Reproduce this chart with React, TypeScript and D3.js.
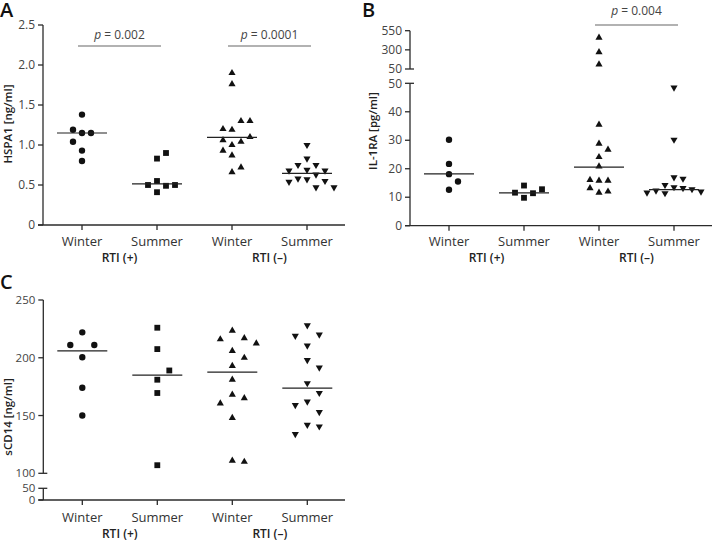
import React from "react";
import * as d3 from "d3";

// categories and group labels
const categories = ["Winter", "Summer", "Winter", "Summer"];
const groupLabels = ["RTI (+)", "RTI (–)"];
const shapes = ["circle", "square", "up", "down"];

// HSPA1 [ng/ml]
const hspaWinterPos = [1.38, 1.15, 1.15, 1.19, 1.04, 0.93, 0.8];
const hspaSummerPos = [0.83, 0.9, 0.55, 0.49, 0.5, 0.5, 0.41];
const hspaWinterNeg = [1.9, 1.76, 1.19, 1.3, 1.2, 1.0, 1.04, 1.06, 1.3, 1.1, 0.93, 0.87, 0.66, 0.72];
const hspaSummerNeg = [1.0, 0.83, 0.75, 0.75, 0.69, 0.68, 0.68, 0.63, 0.58, 0.57, 0.55, 0.54, 0.47, 0.47];
const hspaMedians = [1.15, 0.515, 1.095, 0.645];
const hspaTicks = [0, 0.5, 1, 1.5, 2, 2.5];
const hspaTickLabels = ["0", "0.5", "1.0", "1.5", "2.0", "2.5"];

// IL-1RA [pg/ml]
const ilWinterPos = [30.2, 21.7, 18.1, 15.5, 12.6];
const ilSummerPos = [14.1, 11.4, 11.6, 12.8, 9.8];
const ilWinterNeg = [460, 270, 110, 35.5, 28.8, 26.7, 24.1, 20.8, 15.8, 15.8, 16.1, 11.6, 13.2, 12.0];
const ilSummerNeg = [48.5, 30.2, 17.0, 16.5, 14.3, 13.5, 13.2, 12.8, 12.3, 12.0, 11.6, 11.4, 11.0, 10.8];
const ilMedians = [18.2, 11.5, 20.6, 12.7];
const ilTicksLow = [0, 10, 20, 30, 40, 50];
const ilTicksHigh = [50, 300, 550];

// sCD14 [ng/ml]
const cdWinterPos = [222, 211, 211, 200.5, 174, 150];
const cdSummerPos = [226, 207.5, 181, 189, 169.5, 107];
const cdWinterNeg = [223.5, 217, 216, 212.5, 206, 200, 193, 181, 168, 165, 160.5, 148, 111, 110];
const cdSummerNeg = [228, 220, 219, 210.5, 198, 191.5, 178, 169.5, 162, 159, 153, 142, 140.5, 134];
const cdMedians = [206, 185, 187.6, 173.7];
const cdTicksLow = [0, 50];
const cdTicksHigh = [100, 150, 200, 250];

const FONT = "'Open Sans', 'DejaVu Sans', sans-serif";
const INK = "#2b2b2b";

type Segment = {
  domain: [number, number];
  range: [number, number];
  ticks: number[];
  labels?: string[];
  breakTop?: boolean;
  breakBottom?: boolean;
};

type PVal = { a: number; b: number; text: string; lineY: number; textY: number };

type PanelProps = {
  letter: string;
  letterX: number;
  letterY: number;
  axisX: number;
  xEnd: number;
  baseY: number;
  segments: Segment[];
  groups: number[][];
  medians: number[];
  pvals: PVal[];
  yTitle: string;
  yTitleX: number;
  yTitleY: number;
  catY: number;
  groupY: number;
  step: number;
  thr: number;
  tickFont?: number;
};

function symbolPath(shape: string) {
  const type =
    shape === "circle" ? d3.symbolCircle : shape === "square" ? d3.symbolSquare : d3.symbolTriangle;
  const size = shape === "circle" ? 32 : shape === "square" ? 34 : 22;
  return d3.symbol().type(type).size(size)() as string;
}

// simple beeswarm: spread points sideways when they would overlap
function swarm(values: number[], cx: number, y: (v: number) => number, step: number, thr: number) {
  const placed: { x: number; y: number; v: number }[] = [];
  const tries = [0, 1, -1, 2, -2, 3, -3];
  values.forEach((v) => {
    const py = y(v);
    for (const k of tries) {
      const px = cx + k * step;
      const hit = placed.some((p) => Math.abs(p.x - px) < step / 2 && Math.abs(p.y - py) < thr);
      if (!hit) {
        placed.push({ x: px, y: py, v });
        break;
      }
    }
  });
  return placed;
}

function Panel(p: PanelProps) {
  const scales = p.segments.map((s) => d3.scaleLinear().domain(s.domain).range(s.range));
  const y = (v: number) => {
    const i = p.segments.findIndex((s) => v <= s.domain[1]);
    return scales[i < 0 ? scales.length - 1 : i](v);
  };
  const x = d3
    .scalePoint<number>()
    .domain(d3.range(categories.length))
    .range([p.axisX + 39, p.axisX + 264]);
  const paths = shapes.map(symbolPath);

  return (
    <g fontFamily={FONT}>
      <text x={p.letterX} y={p.letterY} fontSize={20} fontWeight={600} fill="#111">
        {p.letter}
      </text>

      {/* y axis segments */}
      {p.segments.map((s, si) => {
        const sc = scales[si];
        return (
          <g key={si}>
            <line x1={p.axisX} x2={p.axisX} y1={s.range[0]} y2={s.range[1]} stroke={INK} strokeWidth={1.3} />
            {s.ticks.map((t, ti) => {
              const ty = sc(t);
              const isBreak = (s.breakTop && t === s.domain[1]) || (s.breakBottom && t === s.domain[0]);
              return (
                <g key={ti}>
                  <line
                    x1={p.axisX - 5}
                    x2={isBreak ? p.axisX + 4 : p.axisX}
                    y1={ty}
                    y2={ty}
                    stroke={INK}
                    strokeWidth={1.3}
                  />
                  <text
                    x={p.axisX - 8}
                    y={ty}
                    dy="0.35em"
                    textAnchor="end"
                    fontSize={p.tickFont ?? 12}
                    fill="#444"
                  >
                    {s.labels ? s.labels[ti] : d3.format("d")(t)}
                  </text>
                </g>
              );
            })}
          </g>
        );
      })}

      <text
        transform={`translate(${p.yTitleX},${p.yTitleY}) rotate(-90)`}
        textAnchor="middle"
        fontSize={11.5}
        fontWeight={600}
        fill="#222"
      >
        {p.yTitle}
      </text>

      {/* x axis */}
      <line x1={p.axisX - 5} x2={p.xEnd} y1={p.baseY} y2={p.baseY} stroke={INK} strokeWidth={1.3} />
      {categories.map((c, i) => (
        <g key={i}>
          <line x1={x(i)} x2={x(i)} y1={p.baseY} y2={p.baseY + 5} stroke={INK} strokeWidth={1.3} />
          <text x={x(i)} y={p.catY} textAnchor="middle" fontSize={13} fill="#333">
            {c}
          </text>
        </g>
      ))}
      {groupLabels.map((g, i) => (
        <text
          key={g}
          x={((x(i * 2) as number) + (x(i * 2 + 1) as number)) / 2}
          y={p.groupY}
          textAnchor="middle"
          fontSize={12}
          fontWeight={600}
          fill="#222"
        >
          {g}
        </text>
      ))}

      {/* p-value annotations */}
      {p.pvals.map((pv, i) => {
        const xa = (x(pv.a) as number) - 4;
        const xb = (x(pv.b) as number) + 4;
        return (
          <g key={i}>
            <line x1={xa} x2={xb} y1={pv.lineY} y2={pv.lineY} stroke="#666" strokeWidth={1.2} />
            <text x={(xa + xb) / 2} y={pv.textY} textAnchor="middle" fontSize={12} fill="#444">
              <tspan fontStyle="italic">p</tspan>
              {" = " + pv.text}
            </text>
          </g>
        );
      })}

      {/* points */}
      {p.groups.map((vals, gi) => {
        const pts = swarm(vals, x(gi) as number, y, p.step, p.thr);
        return (
          <g key={gi}>
            {pts.map((pt, k) => (
              <path
                key={k}
                d={paths[gi]}
                transform={`translate(${pt.x},${pt.y})${shapes[gi] === "down" ? " rotate(180)" : ""}`}
                fill="#111"
              />
            ))}
          </g>
        );
      })}

      {/* median lines */}
      {p.medians.map((m, gi) => (
        <line
          key={gi}
          x1={(x(gi) as number) - 25}
          x2={(x(gi) as number) + 25}
          y1={y(m)}
          y2={y(m)}
          stroke="#222"
          strokeWidth={1.2}
        />
      ))}
    </g>
  );
}

export default function App() {
  return (
    <svg
      width={713}
      height={540}
      style={{ position: "absolute", left: 0, top: 0, background: "#fff" }}
    >
      <Panel
        letter="A"
        letterX={0}
        letterY={17}
        axisX={43}
        xEnd={345}
        baseY={225}
        segments={[{ domain: [0, 2.5], range: [225, 25], ticks: hspaTicks, labels: hspaTickLabels }]}
        groups={[hspaWinterPos, hspaSummerPos, hspaWinterNeg, hspaSummerNeg]}
        medians={hspaMedians}
        pvals={[
          { a: 0, b: 1, text: "0.002", lineY: 46, textY: 38.5 },
          { a: 2, b: 3, text: "0.0001", lineY: 46, textY: 38.5 },
        ]}
        yTitle="HSPA1 [ng/ml]"
        yTitleX={12}
        yTitleY={124}
        catY={246}
        groupY={262}
        step={9}
        thr={9}
      />
      <Panel
        letter="B"
        letterX={362}
        letterY={17}
        axisX={410}
        xEnd={712}
        baseY={225.7}
        segments={[
          { domain: [0, 50], range: [225.7, 83.3], ticks: ilTicksLow, breakTop: true },
          { domain: [50, 550], range: [69, 30.7], ticks: ilTicksHigh, breakBottom: true },
        ]}
        groups={[ilWinterPos, ilSummerPos, ilWinterNeg, ilSummerNeg]}
        medians={ilMedians}
        pvals={[{ a: 2, b: 3, text: "0.004", lineY: 25, textY: 15 }]}
        yTitle="IL-1RA [pg/ml]"
        yTitleX={377}
        yTitleY={131}
        catY={246}
        groupY={262}
        step={9}
        thr={8}
      />
      <Panel
        letter="C"
        letterX={0}
        letterY={289}
        axisX={43.3}
        xEnd={345}
        baseY={500}
        segments={[
          { domain: [0, 50], range: [500, 488.3], ticks: cdTicksLow, breakTop: true },
          { domain: [100, 250], range: [473.3, 300], ticks: cdTicksHigh, breakBottom: true },
        ]}
        groups={[cdWinterPos, cdSummerPos, cdWinterNeg, cdSummerNeg]}
        medians={cdMedians}
        pvals={[]}
        yTitle="sCD14 [ng/ml]"
        yTitleX={12}
        yTitleY={417}
        catY={521.5}
        groupY={537.5}
        step={12}
        thr={13.2}
        tickFont={11.5}
      />
    </svg>
  );
}
